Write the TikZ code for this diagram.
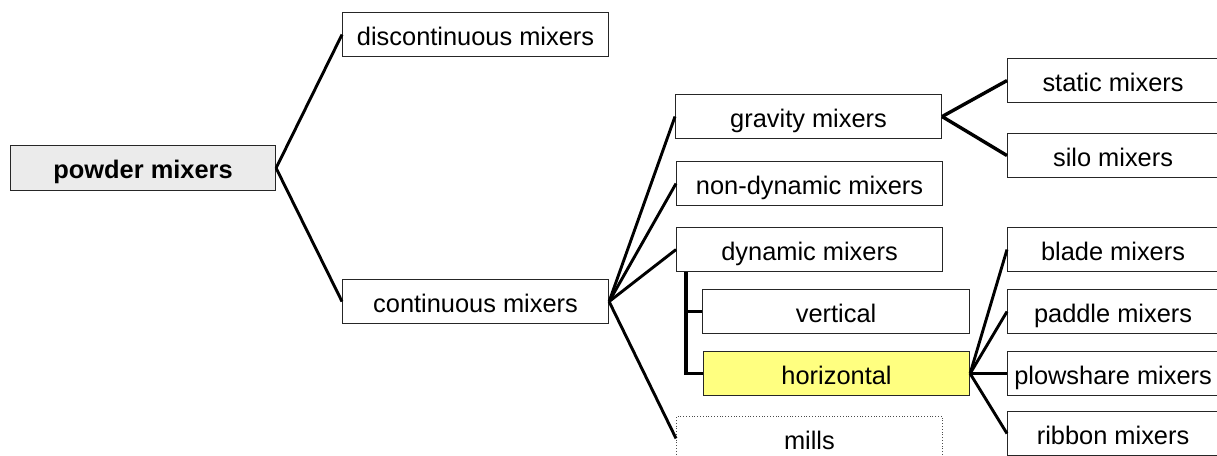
\documentclass[tikz,border=0pt]{standalone}
\usepackage{fontspec}
\setmainfont{Liberation Sans}
\begin{document}
\begin{tikzpicture}[x=1pt,y=-1pt,
  box/.style={draw=black!85, line width=1.1pt, minimum width=266pt, minimum height=44pt,
    inner sep=0pt, text height=22pt, text depth=0.6pt, anchor=north west,
    font=\fontsize{25.4}{30}\selectfont},
  rightbox/.style={box, minimum width=211pt},
  link/.style={line width=2.9pt, black}]
\useasboundingbox (0,0) rectangle (1217,455);

% root
\node[box, minimum width=265pt, minimum height=45pt, fill=black!8,
      font=\fontsize{25.4}{30}\selectfont\bfseries] (root) at (10,145) {powder mixers};

% first level
\node[box] (disc) at (342,12)  {discontinuous mixers};
\node[box] (cont) at (342,279) {continuous mixers};

% continuous mixers
\node[box] (grav)  at (675,94)  {gravity mixers};
\node[box] (nond)  at (676,161) {non-dynamic mixers};
\node[box] (dyn)   at (676,227) {dynamic mixers};
\node[box, minimum width=267pt] (vert) at (702,289) {vertical};
\node[box, fill={rgb,255:red,255;green,255;blue,128}] (hor) at (703,351) {horizontal};
\node[box, draw=black!70, line width=0.8pt, dotted] (mills) at (676,416) {mills};

% gravity mixers
\node[rightbox] (static) at (1007,58)  {static mixers};
\node[rightbox] (silo)   at (1007,133) {silo mixers};

% horizontal mixers
\node[rightbox] (blade)  at (1007,227) {blade mixers};
\node[rightbox] (paddle) at (1007,289) {paddle mixers};
\node[rightbox] (plow)   at (1007,351) {plowshare mixers};
\node[rightbox] (ribbon) at (1007,411) {ribbon mixers};

% connectors
\draw[link] (root.east) -- (disc.west);
\draw[link] (root.east) -- (cont.west);
\foreach \t in {grav,nond,dyn,mills}
  \draw[link] (cont.east) -- (\t.west);
\draw[link, line width=3.4pt] (grav.east) -- (static.west);
\draw[link, line width=3.4pt] (grav.east) -- (silo.west);
\coordinate (dynroot) at ([xshift=10pt]dyn.south west);
\draw[link, line width=3.2pt] (dynroot) |- (hor.west);
\draw[link, line width=3.2pt] (dynroot |- vert.west) -- (vert.west);
\foreach \t in {blade,paddle,plow,ribbon}
  \draw[link] (hor.east) -- (\t.west);
\end{tikzpicture}
\end{document}
